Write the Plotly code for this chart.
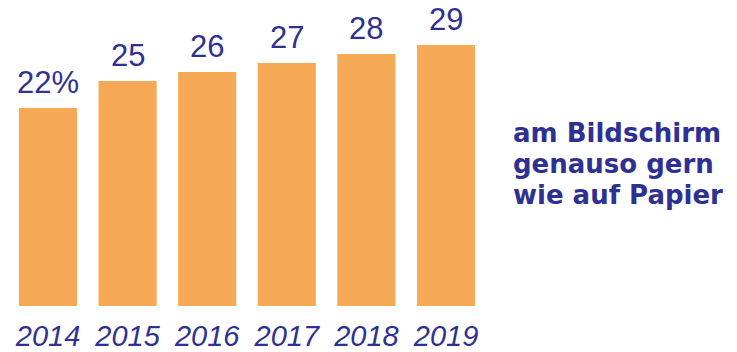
import plotly.graph_objects as go

# Share of readers (%) per year
years = ["2014", "2015", "2016", "2017", "2018", "2019"]
shares = [22, 25, 26, 27, 28, 29]
value_labels = [f"{v}%" if i == 0 else str(v) for i, v in enumerate(shares)]
side_lines = ["am Bildschirm", "genauso gern", "wie auf Papier"]

ORANGE = "#F7AA55"
BLUE = "#2E3192"
W, H = 737, 352

fig = go.Figure(
    go.Bar(
        x=list(range(len(years))),
        y=shares,
        width=0.73,
        marker=dict(color=ORANGE, line=dict(width=0)),
        hoverinfo="skip",
    )
)

# value labels above each bar
for i, (v, lab) in enumerate(zip(shares, value_labels)):
    fig.add_annotation(
        x=i, y=v, text=lab, showarrow=False,
        xanchor="center", yanchor="bottom", yshift=6,
        font=dict(family="Liberation Sans", size=31, color=BLUE),
    )

# caption on the right
for k, line in enumerate(side_lines):
    fig.add_annotation(
        xref="paper", yref="paper",
        x=511 / W, y=1 - (133 + k * 31) / 306,
        text=line, showarrow=False,
        xanchor="left", yanchor="middle",
        font=dict(family="DejaVu Sans", size=26, color=BLUE, weight="bold"),
    )

px_per_cat = 79.6
left = -48 / px_per_cat
fig.update_layout(
    width=W, height=H,
    margin=dict(l=0, r=0, t=0, b=46),
    paper_bgcolor="white", plot_bgcolor="white",
    showlegend=False,
    xaxis=dict(
        range=[left, left + W / px_per_cat],
        tickmode="array",
        tickvals=list(range(len(years))),
        ticktext=years,
        automargin=False,
        ticks="outside", ticklen=4, tickcolor="rgba(0,0,0,0)",
        tickfont=dict(family="Liberation Sans", size=29, color=BLUE, style="italic"),
        showgrid=False, zeroline=False, showline=False,
    ),
    yaxis=dict(
        range=[0, 306 / 9],
        visible=False, showgrid=False, zeroline=False,
        automargin=False,
    ),
)

fig.write_html("out.html")
